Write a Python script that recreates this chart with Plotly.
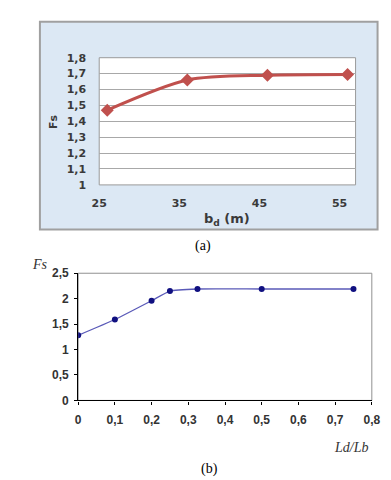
import plotly.graph_objects as go

W, H = 391, 480

# Chart (a)
a_x = [26, 36, 46, 56]
a_y = [1.47, 1.66, 1.69, 1.695]
a_xticks = [25, 35, 45, 55]
a_yticks = [1, 1.1, 1.2, 1.3, 1.4, 1.5, 1.6, 1.7, 1.8]

# Chart (b)
b_x = [0, 0.1, 0.2, 0.25, 0.325, 0.5, 0.75]
b_y = [1.28, 1.59, 1.96, 2.15, 2.19, 2.19, 2.19]
b_xticks = [0, 0.1, 0.2, 0.3, 0.4, 0.5, 0.6, 0.7, 0.8]
b_yticks = [0, 0.5, 1, 1.5, 2, 2.5]


def px(x):
    return x / W


def py(y):
    return 1 - y / H


fig = go.Figure()

fig.add_trace(go.Scatter(
    x=a_x, y=a_y, mode="lines+markers", xaxis="x", yaxis="y",
    line=dict(color="#c0504d", width=3, shape="spline", smoothing=0.8),
    marker=dict(symbol="diamond", size=10, color="#c0504d"),
    showlegend=False, hoverinfo="skip"))

fig.add_trace(go.Scatter(
    x=b_x, y=b_y, mode="lines+markers", xaxis="x2", yaxis="y2",
    line=dict(color="#5a5ab8", width=1.3, shape="spline", smoothing=0.5),
    marker=dict(symbol="circle", size=6, color="#101080"),
    showlegend=False, hoverinfo="skip"))

fa = dict(family="DejaVu Sans", size=11, color="#3a3a3a", weight="bold")
fb = dict(family="Liberation Sans", size=12, color="#333333", weight="bold")

fig.update_layout(
    width=W, height=H, margin=dict(l=0, r=0, t=0, b=0),
    paper_bgcolor="white", plot_bgcolor="rgba(0,0,0,0)",
    separators=", ",
    xaxis=dict(domain=[px(87), px(355)], range=[25, 57], tickvals=a_xticks,
               showgrid=False, zeroline=False, showline=False,
               tickfont=fa, ticks="", ticklabelstandoff=10, anchor="y"),
    yaxis=dict(domain=[py(175), py(44)], range=[1, 1.8], tickvals=a_yticks,
               showgrid=True, gridcolor="#a8a8a8", gridwidth=1, zeroline=False,
               showline=False, tickfont=fa, ticks="", ticklabelstandoff=12,
               anchor="x"),
    xaxis2=dict(domain=[px(65), px(372)], range=[0, 0.8], tickvals=b_xticks,
                showgrid=False, zeroline=False, showline=True, linecolor="black",
                linewidth=1.2, ticks="outside", ticklen=3, tickcolor="black",
                tickfont=fb, ticklabelstandoff=5, anchor="y2"),
    yaxis2=dict(domain=[py(397), py(266)], range=[0, 2.5], tickvals=b_yticks,
                showgrid=False, zeroline=False, showline=True, linecolor="black",
                linewidth=1.2, ticks="outside", ticklen=3, tickcolor="black",
                tickfont=fb, ticklabelstandoff=3, anchor="x2"),
)

shapes = [
    # panel (a) background
    dict(type="rect", xref="paper", yref="paper", x0=px(25), x1=px(378),
         y0=py(221), y1=py(7), fillcolor="#dce8f4",
         line=dict(color="#a0a0a0", width=2), layer="below"),
    # plot (a) white area
    dict(type="rect", xref="paper", yref="paper", x0=px(87), x1=px(355),
         y0=py(175), y1=py(44), fillcolor="white",
         line=dict(color="#9a9a9a", width=1), layer="below"),
    # plot (b) frame
    dict(type="rect", xref="paper", yref="paper", x0=px(65), x1=px(372),
         y0=py(397), y1=py(266), fillcolor="white",
         line=dict(color="#909090", width=1), layer="below"),
]
fig.update_layout(shapes=shapes)

ann = [
    dict(text="b<sub>d</sub> (m)", x=px(221), y=py(211), font=dict(family="DejaVu Sans", size=13, color="#3a3a3a", weight="bold")),
    dict(text="Fs", x=px(39), y=py(110), textangle=-90, font=dict(family="DejaVu Sans", size=11, color="#3a3a3a", weight="bold")),
    dict(text="(a)", x=px(195), y=py(238), font=dict(family="Liberation Serif", size=14, color="black")),
    dict(text="<i>Fs</i>", x=px(25), y=py(257), font=dict(family="Liberation Serif", size=14, color="#333333")),
    dict(text="<i>Ld/Lb</i>", x=px(350), y=py(446), font=dict(family="Liberation Serif", size=14, color="#333333")),
    dict(text="(b)", x=px(202), y=py(468), font=dict(family="Liberation Serif", size=14, color="black")),
]
for a in ann:
    a.update(xref="paper", yref="paper", showarrow=False, xanchor="center", yanchor="middle")
fig.update_layout(annotations=ann)

fig.write_html("out.html")
